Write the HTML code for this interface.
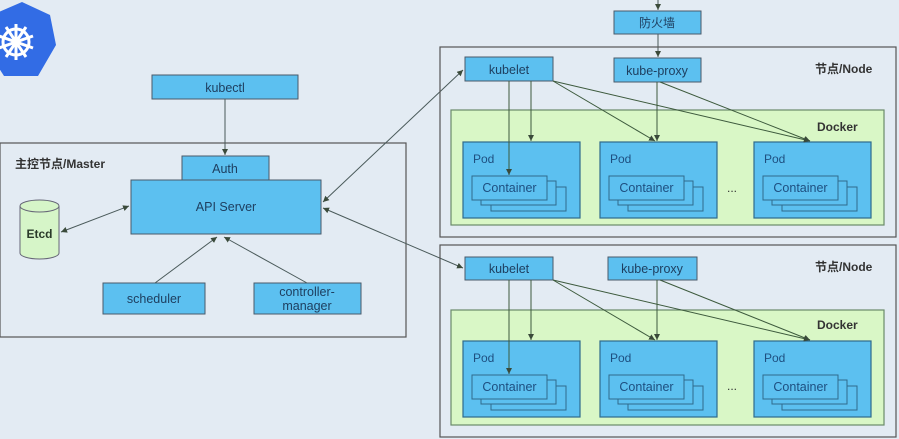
<!DOCTYPE html>
<html><head><meta charset="utf-8"><style>
html,body{margin:0;padding:0;background:#e3ebf3;}
svg{display:block;font-family:"Liberation Sans","Noto Sans CJK SC",sans-serif;}
</style></head><body>
<svg width="899" height="439" viewBox="0 0 899 439" xmlns="http://www.w3.org/2000/svg">
<defs>
<marker id="a" markerWidth="8" markerHeight="8" refX="6" refY="3" orient="auto" markerUnits="userSpaceOnUse"><path d="M0,0 L6,3 L0,6 z" fill="#3a4a3a"/></marker>
<marker id="s" markerWidth="8" markerHeight="8" refX="0" refY="3" orient="auto" markerUnits="userSpaceOnUse"><path d="M6,0 L0,3 L6,6 z" fill="#3a4a3a"/></marker>
<g id="pod">
<rect x="0" y="0" width="117" height="76" fill="#5cc0f0" stroke="#2f6a8c" stroke-width="1.2"/>
<text x="10" y="21" font-size="12" fill="#1e4f80">Pod</text>
<rect x="28" y="45" width="75" height="24" fill="#5cc0f0" stroke="#2f6a8c"/>
<rect x="18" y="39" width="75" height="24" fill="#5cc0f0" stroke="#2f6a8c"/>
<rect x="9" y="34" width="75" height="24" fill="#5cc0f0" stroke="#2f6a8c"/>
<text x="46.5" y="50" font-size="12.5" fill="#1e4f80" text-anchor="middle">Container</text>
</g>
</defs>
<rect width="899" height="439" fill="#e3ebf3"/>
<!-- logo -->
<polygon points="22,2 50,15 56,45 38,76 4,76 -16,45 -8,15" fill="#326ce5"/>
<g stroke="#fff" stroke-width="3" fill="none" transform="translate(16,42)">
<circle r="13"/><circle r="3" fill="#fff"/>
<line x1="0" y1="-18" x2="0" y2="18"/><line x1="-17" y1="-6" x2="17" y2="6"/><line x1="-17" y1="6" x2="17" y2="-6"/>
<line x1="-10" y1="-15" x2="10" y2="15"/><line x1="10" y1="-15" x2="-10" y2="15"/>
</g>
<!-- master -->
<rect x="0" y="143" width="406" height="194" fill="none" stroke="#555" stroke-width="1.2"/>
<text x="15" y="168" font-size="12" font-weight="bold" fill="#333">主控节点/Master</text>
<rect x="152" y="75" width="146" height="24" fill="#5cc0f0" stroke="#4a5a6a"/>
<text x="225" y="92" font-size="12.5" fill="#1e3f60" text-anchor="middle">kubectl</text>
<rect x="182" y="156" width="87" height="24" fill="#5cc0f0" stroke="#4a5a6a"/>
<text x="225" y="173" font-size="12.5" fill="#1e3f60" text-anchor="middle">Auth</text>
<rect x="131" y="180" width="190" height="54" fill="#5cc0f0" stroke="#4a5a6a"/>
<text x="226" y="211" font-size="12.5" fill="#1e3f60" text-anchor="middle">API Server</text>
<path d="M20,206 L20,253 A19.5,6 0 0 0 59,253 L59,206" fill="#d6f5c8" stroke="#667"/>
<ellipse cx="39.5" cy="206" rx="19.5" ry="6" fill="#d6f5c8" stroke="#667"/>
<text x="39.5" y="238" font-size="12" font-weight="bold" fill="#2a3a2a" text-anchor="middle">Etcd</text>
<rect x="103" y="283" width="102" height="31" fill="#5cc0f0" stroke="#4a5a6a"/>
<text x="154" y="303" font-size="12.5" fill="#1e3f60" text-anchor="middle">scheduler</text>
<rect x="254" y="283" width="107" height="31" fill="#5cc0f0" stroke="#4a5a6a"/>
<text x="307" y="296" font-size="12.5" fill="#1e3f60" text-anchor="middle">controller-</text>
<text x="307" y="310" font-size="12.5" fill="#1e3f60" text-anchor="middle">manager</text>
<g stroke="#4a5a5a" stroke-width="1" fill="none">
<line x1="225" y1="99" x2="225" y2="155" marker-end="url(#a)"/>
<line x1="61" y1="232" x2="129" y2="206" marker-end="url(#a)" marker-start="url(#s)"/>
<line x1="155" y1="283" x2="217" y2="237" marker-end="url(#a)"/>
<line x1="307" y1="283" x2="224" y2="237" marker-end="url(#a)"/>
<line x1="323" y1="202" x2="463" y2="70" marker-end="url(#a)" marker-start="url(#s)"/>
<line x1="323" y1="208" x2="463" y2="268" marker-end="url(#a)" marker-start="url(#s)"/>
<line x1="658" y1="0" x2="658" y2="10" marker-end="url(#a)"/>
<line x1="658" y1="34" x2="658" y2="57" marker-end="url(#a)"/>
</g>
<!-- firewall -->
<rect x="614" y="11" width="87" height="23" fill="#5cc0f0" stroke="#4a5a6a"/>
<text x="657" y="27" font-size="12" fill="#1e3f60" text-anchor="middle">防火墙</text>
<!-- nodes -->
<g id="node">
<rect x="440" y="47" width="456" height="190" fill="none" stroke="#555" stroke-width="1.2"/>
<text x="815" y="73" font-size="12" font-weight="bold" fill="#333">节点/Node</text>
<rect x="451" y="110" width="433" height="115" fill="#d9f7c6" stroke="#6a8a6a" stroke-width="1.2"/>
<text x="817" y="131" font-size="12" font-weight="bold" fill="#333">Docker</text>
<use href="#pod" x="463" y="142"/>
<use href="#pod" x="600" y="142"/>
<use href="#pod" x="754" y="142"/>
<text x="732" y="192" font-size="12" fill="#333" text-anchor="middle">...</text>
<rect x="465" y="57" width="88" height="24" fill="#5cc0f0" stroke="#4a5a6a"/>
<text x="509" y="74" font-size="12.5" fill="#1e3f60" text-anchor="middle">kubelet</text>
<g stroke="#3d5a3d" stroke-width="1" fill="none">
<line x1="509" y1="81" x2="509" y2="175" marker-end="url(#a)"/>
<line x1="531" y1="81" x2="531" y2="141" marker-end="url(#a)"/>
<line x1="553" y1="81" x2="655" y2="141" marker-end="url(#a)"/>
<line x1="553" y1="81" x2="810" y2="141" marker-end="url(#a)"/>
</g>
</g>
<rect x="614" y="58" width="87" height="24" fill="#5cc0f0" stroke="#4a5a6a"/>
<text x="657" y="75" font-size="12.5" fill="#1e3f60" text-anchor="middle">kube-proxy</text>
<g stroke="#3d5a3d" stroke-width="1" fill="none">
<line x1="657" y1="82" x2="657" y2="141" marker-end="url(#a)"/>
<line x1="660" y1="82" x2="810" y2="141" marker-end="url(#a)"/>
</g>
<g transform="translate(0,198)">
<rect x="440" y="47" width="456" height="192" fill="none" stroke="#555" stroke-width="1.2"/>
<text x="815" y="73" font-size="12" font-weight="bold" fill="#333">节点/Node</text>
<rect x="451" y="112" width="433" height="115" fill="#d9f7c6" stroke="#6a8a6a" stroke-width="1.2"/>
<text x="817" y="131" font-size="12" font-weight="bold" fill="#333">Docker</text>
<use href="#pod" x="463" y="143"/>
<use href="#pod" x="600" y="143"/>
<use href="#pod" x="754" y="143"/>
<text x="732" y="192" font-size="12" fill="#333" text-anchor="middle">...</text>
<rect x="465" y="59" width="88" height="23" fill="#5cc0f0" stroke="#4a5a6a"/>
<text x="509" y="75" font-size="12.5" fill="#1e3f60" text-anchor="middle">kubelet</text>
<rect x="608" y="59" width="89" height="23" fill="#5cc0f0" stroke="#4a5a6a"/>
<text x="652" y="75" font-size="12.5" fill="#1e3f60" text-anchor="middle">kube-proxy</text>
<g stroke="#3d5a3d" stroke-width="1" fill="none">
<line x1="509" y1="82" x2="509" y2="176" marker-end="url(#a)"/>
<line x1="531" y1="82" x2="531" y2="142" marker-end="url(#a)"/>
<line x1="553" y1="82" x2="655" y2="142" marker-end="url(#a)"/>
<line x1="553" y1="82" x2="810" y2="142" marker-end="url(#a)"/>
<line x1="657" y1="82" x2="657" y2="142" marker-end="url(#a)"/>
<line x1="660" y1="82" x2="810" y2="142" marker-end="url(#a)"/>
</g>
</g>
</svg>
</body></html>
